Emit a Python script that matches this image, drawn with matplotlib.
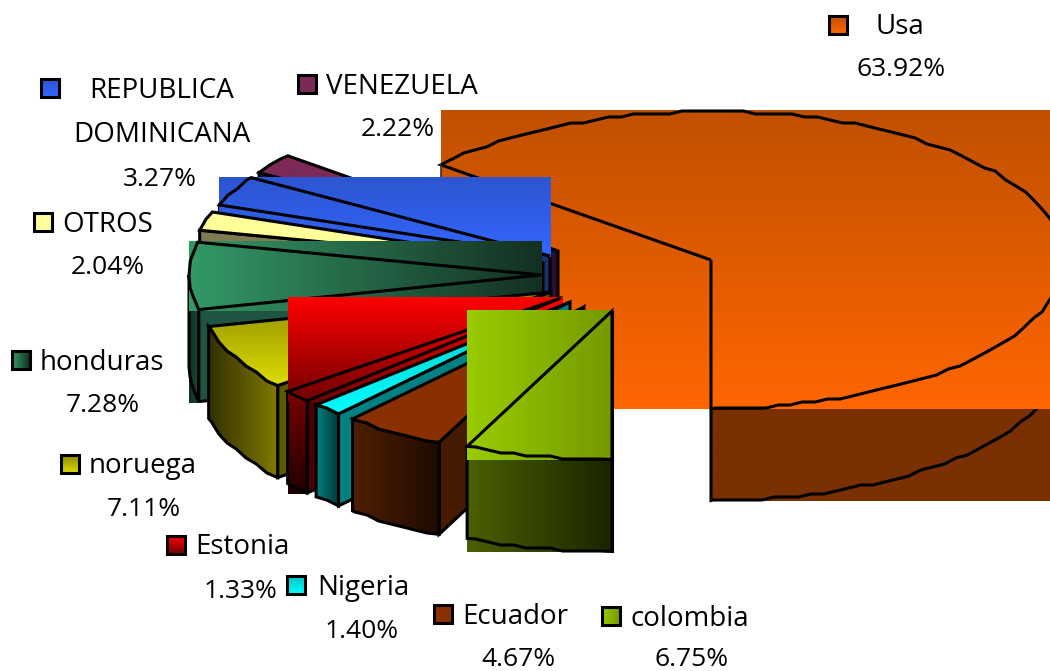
import numpy as np
import matplotlib
matplotlib.use("Agg")
import matplotlib.pyplot as plt
from matplotlib.colors import to_rgb
from matplotlib.patches import Polygon, Rectangle

# ---- data ----
names = ["colombia", "Ecuador", "Nigeria", "Estonia", "noruega", "honduras",
         "OTROS", "REPUBLICA\nDOMINICANA", "VENEZUELA", "Usa"]
values = [6.75, 4.67, 1.40, 1.33, 7.11, 7.28, 2.04, 3.27, 2.22, 63.92]

# ---- layout: exploded slice centres, pie projection ----
centres = [(612, 311), (584, 307), (570, 302), (561, 298), (551, 292),
           (541, 275), (543, 263), (550, 256), (558, 251), (711, 260)]
RX, RY, DEPTH = 352, 148.5, 92

# ---- styles: (start, end, direction, rectangular fill?) ----
top_style = [("#99cc00", "#739900", "h", True), ("#8a3000", "#8a3000", "v", False),
             ("#00c4c4", "#00ffff", "v", False), ("#ff0000", "#700000", "v", True),
             ("#8a8a00", "#dcdc00", "v", False), ("#339966", "#143022", "h", True),
             ("#ffff99", "#ffff99", "v", False), ("#2d55cf", "#3366ff", "v", True),
             ("#7c2a58", "#7c2a58", "v", False), ("#c05000", "#ff6600", "v", True)]
arc_style = [("#4a6000", "#1a2500", "h"), ("#4f1f00", "#1e0a00", "h"),
             ("#008080", "#003636", "h"), ("#7a0000", "#200000", "v"),
             ("#333000", "#807a00", "h"), ("#0e2e20", "#1a4a38", "h"),
             None, None, None, ("#7a3000", "#7a3000", "h")]
face_colour = ["#3a4c00", "#451a00", "#008080", "#4a0000", "#5a5a00", "#1f5540",
               "#807a50", "#1a3070", "#2a1030", None]

legend_pos = [(611, 616, 630, 692, 657), (443, 614, 462, 518, 656), (296, 585, 317, 362, 628),
              (176, 545, 195, 241, 588), (70, 464, 89, 144, 506), (21, 360, 40, 103, 403),
              (43, 222, 62, 108, 264), (50, 88, 89, 160, 176), (307, 84, 326, 398, 126),
              (838, 25, 876, 901, 66)]

plt.rcParams["font.family"] = "Open Sans"
FS_NAME = 20
FS_PCT = 19
LW = 2.2

fig = plt.figure(figsize=(10.5, 6.71), dpi=100)
ax = fig.add_axes([0, 0, 1, 1])
ax.set_xlim(0, 1050)
ax.set_ylim(671, 0)
ax.axis("off")
z = [1]


def nz():
    z[0] += 1
    return z[0]


def grad(box, c0, c1, d, clip=None):
    x0, x1, y0, y1 = box
    a, b = np.array(to_rgb(c0)), np.array(to_rgb(c1))
    t = np.linspace(0, 1, 128)
    img = a + (b - a) * t[:, None]
    img = img[None, :, :] if d == "h" else img[:, None, :]
    im = ax.imshow(img, extent=(x0, x1, y1, y0), origin="upper", aspect="auto",
                   interpolation="bilinear", zorder=nz())
    if clip is not None:
        im.set_clip_path(Polygon(clip, closed=True, transform=ax.transData))
    else:
        im.set_clip_path(Rectangle((x0, y0), x1 - x0, y1 - y0, transform=ax.transData))
    ax.set_xlim(0, 1050)
    ax.set_ylim(671, 0)


def arc(c, a0, a1):
    """Outer rim between two angles measured clockwise from the bottom; coarse like the source."""
    n = max(2, int(abs(a1 - a0) * 6))
    th = np.radians(np.linspace(a0, a1, n))
    x = c[0] - RX * np.sin(th)
    y = c[1] + RY * np.cos(th)
    keep = [0]
    for i in range(1, n):
        if np.hypot(x[i] - x[keep[-1]], y[i] - y[keep[-1]]) >= 12:
            keep.append(i)
    pts = np.column_stack([x[keep], np.round(y[keep] / 3) * 3])
    pts[0] = (x[0], y[0])
    return np.vstack([pts, (x[-1], y[-1])])


def outline(pts, closed=True):
    ax.add_patch(Polygon(pts, closed=closed, fill=False, edgecolor="black", lw=LW,
                         joinstyle="miter", zorder=nz()))


edges = np.concatenate([[0], np.cumsum(values)]) / sum(values) * 360

for i in [9, 8, 7, 6, 5, 4, 3, 2, 1, 0]:
    c = np.array(centres[i], float)
    a0, a1 = edges[i], edges[i + 1]
    rim = arc(c, a0, a1)
    top = np.vstack([c, rim])
    down = np.array([0, DEPTH])

    # straight cut face
    if face_colour[i] is not None:
        first = rim[0]
        face = np.array([first, c, c + down, first + down])
        ax.add_patch(Polygon(face, closed=True, facecolor=face_colour[i], edgecolor="black",
                             lw=LW, joinstyle="miter", zorder=nz()))

    # visible part of the outer wall
    if arc_style[i] is not None:
        lo, hi = (a0, min(a1, 90)) if a0 < 90 else (max(a0, 270), a1)
        wall_rim = arc(c, lo, hi)
        wall = np.vstack([wall_rim, wall_rim[::-1] + down])
        x0, x1 = wall[:, 0].min(), wall[:, 0].max()
        y0, y1 = wall[:, 1].min(), wall[:, 1].max()
        s = arc_style[i]
        grad((x0, x1, y0, y1 + 1), s[0], s[1], s[2], None if top_style[i][3] else wall)
        outline(wall)

    # top surface
    s = top_style[i]
    x0, x1 = top[:, 0].min(), top[:, 0].max()
    y0, y1 = top[:, 1].min(), top[:, 1].max()
    if s[3]:
        grad((x0, x1 + 1, y0 - 1, y1 + 1), s[0], s[1], s[2])
    else:
        grad((x0, x1, y0, y1), s[0], s[1], s[2], top)
    outline(top)
    if i == 9:
        tip = rim[0]
        ax.plot([tip[0], tip[0]], [tip[1], tip[1] + 60], color="#333333", lw=1.2, zorder=nz())

# legend and percentage labels
for n, v, s, pos in zip(names, values, top_style, legend_pos):
    mx, my, tx, px, py = pos
    m = 9
    grad((mx - m, mx + m, my - m, my + m), s[0], s[1], s[2])
    ax.add_patch(Rectangle((mx - m, my - m), 2 * m, 2 * m, fill=False, edgecolor="black",
                           lw=LW, zorder=nz()))
    lines = n.split("\n")
    ax.text(tx, my - 1, lines[0], fontsize=FS_NAME, color="black", va="center_baseline", ha="left",
            zorder=nz())
    if len(lines) > 1:
        ax.text(162, my + 44, lines[1], fontsize=FS_NAME, color="black", va="center_baseline",
                ha="center", zorder=nz())
    ax.text(px, py, f"{v:.2f}%", fontsize=FS_PCT, color="black", va="center_baseline", ha="center",
            zorder=nz())

fig.savefig("out.png", dpi=100)
